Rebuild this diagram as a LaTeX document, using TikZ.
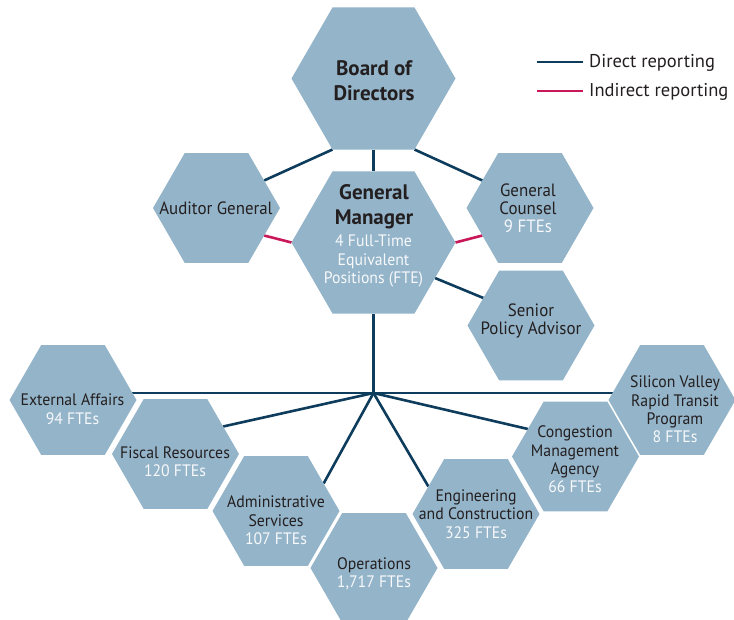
\documentclass[tikz,border=0pt]{standalone}
\usepackage{fontspec}
\setmainfont{PT Sans}
\newfontfamily\lblfont[FakeStretch=0.95]{PT Sans}
\usetikzlibrary{shapes.geometric,backgrounds}
\definecolor{hexfill}{HTML}{94B4C9}
\definecolor{navy}{HTML}{0E3C5C}
\definecolor{crimson}{HTML}{C8185A}
\definecolor{textdark}{HTML}{231F20}
\definecolor{ftewhite}{HTML}{F7F9FB}
\begin{document}
\begin{tikzpicture}[x=1pt,y=-1pt,
  hexs/.style={regular polygon, regular polygon sides=6, fill=hexfill,
    minimum size=127pt, inner sep=0pt, outer sep=0pt},
  hexl/.style={hexs, minimum size=164pt},
  lbl/.style={text=textdark, align=center, inner sep=0pt,
    font=\lblfont\fontsize{16.6}{18.4}\selectfont},
  lblup/.style={lbl, font=\lblfont\fontsize{17.8}{18.2}\selectfont},
  ttl/.style={lbl, font=\fontsize{21}{25}\selectfont\bfseries},
  fte/.style={lbl, text=ftewhite},
  direct/.style={draw=navy, line width=2.6pt},
  indirect/.style={draw=crimson, line width=2.6pt},
  legendtext/.style={lbl, anchor=west, font=\fontsize{18.5}{21}\selectfont},
]
\useasboundingbox (0,0) rectangle (734,620);

% hexagons
\node[hexl] (bod) at (373.5,78.5) {};
\node[hexl] (gm)  at (373.5,242.5) {};
\node[hexs] (aud) at (216.5,208) {};
\node[hexs] (cou) at (530,208) {};
\node[hexs] (sen) at (531,325.5) {};
\node[hexs] (ext) at (73,400) {};
\node[hexs] (fis) at (175.5,454) {};
\node[hexs] (adm) at (276,511) {};
\node[hexs] (ops) at (374,568) {};
\node[hexs] (eng) at (476,514) {};
\node[hexs] (cma) at (575.5,456.5) {};
\node[hexs] (svr) at (672,400) {};
\coordinate (hub) at (373.5,393);

% labels
\node[ttl] (bodt) at (374,81) {Board of\\Directors};
\node[ttl] (gmt) at (374,207) {General\\Manager};
\node[fte] (gmf) at (373.5,261) {4 Full-Time\\Equivalent\\Positions (FTE)};
\node[lblup] (audt) at (216,208) {Auditor General};
\node[lblup] (cout) at (528,208) {General\\Counsel\\\textcolor{ftewhite}{9 FTEs}};
\node[lblup] (sent) at (531,321) {Senior\\Policy Advisor};
\node[lbl] (extt) at (72.5,409) {External Affairs\\\textcolor{ftewhite}{94 FTEs}};
\node[lbl] (fist) at (175,462) {Fiscal Resources\\\textcolor{ftewhite}{120 FTEs}};
\node[lbl] (admt) at (276,520.5) {Administrative\\Services\\\textcolor{ftewhite}{107 FTEs}};
\node[lbl] (opst) at (374,574) {Operations\\\textcolor{ftewhite}{1,717 FTEs}};
\node[lbl] (engt) at (476,514) {Engineering\\and Construction\\\textcolor{ftewhite}{325 FTEs}};
\node[lbl] (cmat) at (575,459.5) {Congestion\\Management\\Agency\\\textcolor{ftewhite}{66 FTEs}};
\node[lbl] (svrt) at (675,409.5) {Silicon Valley\\Rapid Transit\\Program\\\textcolor{ftewhite}{8 FTEs}};

% legend
\coordinate (lda) at (537,62);
\coordinate (ldb) at (583,62);
\coordinate (lia) at (537,91);
\coordinate (lib) at (583,91);
\draw[direct] (lda) -- (ldb);
\draw[indirect] (lia) -- (lib);
\node[legendtext] (ldt) at (589,63) {Direct reporting};
\node[legendtext] (lit) at (589,92) {Indirect reporting};

% reporting lines, kept behind the hexagons
\begin{scope}[on background layer]
  \draw[direct] (bod.270) -- (gm.90);
  \draw[direct] (bod.240) -- (aud.30);
  \draw[direct] (bod.300) -- (cou.150);
  \draw[indirect] (gm.180) -- (aud.330);
  \draw[indirect] (gm.0) -- (cou.210);
  \draw[direct] (gm.330) -- (sen.150);
  \draw[direct] (gm.270) -- (hub);
  \draw[direct] (hub) -- (hub -| ext.center);
  \draw[direct] (hub) -- (hub -| svr.center);
  \draw[direct] (hub) -- (fis.30);
  \draw[direct] (hub) -- (adm.30);
  \draw[direct] (hub) -- (eng.150);
  \draw[direct] (hub) -- (cma.150);
\end{scope}
\end{tikzpicture}
\end{document}
